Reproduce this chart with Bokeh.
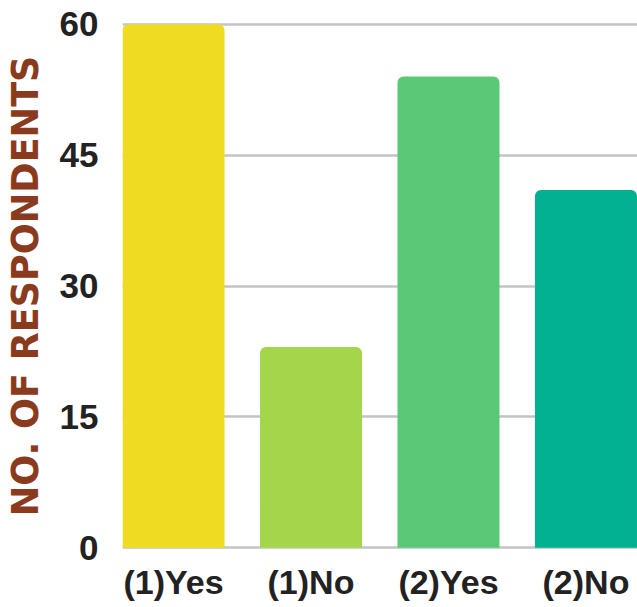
from bokeh.plotting import figure
from bokeh.models import Range1d, FixedTicker, ColumnDataSource
from bokeh.embed import file_html
from bokeh.resources import INLINE

categories = ["(1)Yes", "(1)No", "(2)Yes", "(2)No"]
values = [60, 23, 54, 41]
colors = ["#F0DB23", "#A4D64C", "#5BC877", "#02B190"]
y_ticks = [0, 15, 30, 45, 60]

xs = list(range(len(categories)))
src = ColumnDataSource(dict(x=xs, top=values, color=colors))

p = figure(width=637, height=607, frame_width=516, frame_height=527,
           output_backend="svg", toolbar_location=None,
           x_range=Range1d(-0.371, 3.382), y_range=Range1d(-0.2, 60.2),
           min_border_left=121, min_border_right=0, min_border_top=22,
           min_border_bottom=58)
p.outline_line_color = None
p.background_fill_color = "white"
p.border_fill_color = "white"

p.vbar(x="x", top="top", bottom=0, width=0.742, color="color", source=src,
       line_color=None, border_radius=(6, 6, 0, 0))

p.xgrid.grid_line_color = None
p.ygrid.ticker = FixedTicker(ticks=y_ticks)
p.ygrid.grid_line_color = "#C4C4C4"
p.ygrid.grid_line_width = 2.5
p.ygrid.level = "underlay"

p.xaxis.ticker = FixedTicker(ticks=xs)
p.xaxis.major_label_overrides = {i: c for i, c in enumerate(categories)}
p.xaxis.axis_line_color = None
p.xaxis.major_tick_line_color = None
p.xaxis.minor_tick_line_color = None
p.xaxis.major_label_text_font = "Liberation Sans"
p.xaxis.major_label_text_font_style = "bold"
p.xaxis.major_label_text_font_size = "34px"
p.xaxis.major_label_text_color = "#222222"
p.xaxis.major_label_standoff = 7

p.yaxis.ticker = FixedTicker(ticks=y_ticks)
p.yaxis.axis_line_color = None
p.yaxis.major_tick_line_color = None
p.yaxis.minor_tick_line_color = None
p.yaxis.major_label_text_font = "Liberation Sans"
p.yaxis.major_label_text_font_style = "bold"
p.yaxis.major_label_text_font_size = "35px"
p.yaxis.major_label_text_color = "#222222"
p.yaxis.major_label_standoff = 18
p.yaxis.axis_label = "NO. OF RESPONDENTS"
p.yaxis.axis_label_text_font = "DejaVu Sans"
p.yaxis.axis_label_text_font_style = "bold"
p.yaxis.axis_label_text_font_size = "36.5px"
p.yaxis.axis_label_text_color = "#8A3B1D"
p.yaxis.axis_label_standoff = 10

open("out.html", "w").write(file_html(p, INLINE))
